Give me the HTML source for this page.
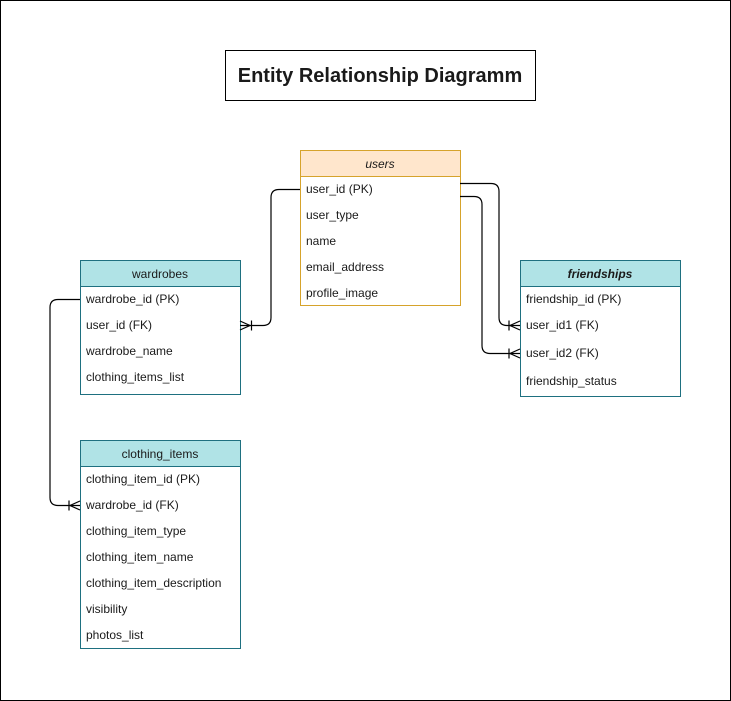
<!DOCTYPE html>
<html><head><meta charset="utf-8"><style>
body{margin:0;background:#fff}
svg{display:block}
text{font-family:"Liberation Sans",Arial,sans-serif;font-size:12px;fill:#1a1a1a}
</style></head><body>
<svg width="731" height="701" viewBox="0 0 731 701">
<rect x="0.5" y="0.5" width="730" height="700" fill="#fff" stroke="#000"/>
<rect x="225.5" y="50.5" width="310" height="50" fill="#fff" stroke="#000"/>
<text x="380" y="82" text-anchor="middle" style="font-size:20px;font-weight:bold">Entity Relationship Diagramm</text>

<!-- users -->
<rect x="300.5" y="150.5" width="160" height="155" fill="#fff" stroke="#d6a32b"/>
<rect x="300.5" y="150.5" width="160" height="26" fill="#ffe6cc" stroke="#d6a32b"/>
<text x="380" y="168" text-anchor="middle" font-style="italic">users</text>
<text x="306" y="193">user_id (PK)</text>
<text x="306" y="219">user_type</text>
<text x="306" y="245">name</text>
<text x="306" y="271">email_address</text>
<text x="306" y="297">profile_image</text>

<!-- wardrobes -->
<rect x="80.5" y="260.5" width="160" height="134" fill="#fff" stroke="#1e7080"/>
<rect x="80.5" y="260.5" width="160" height="26" fill="#b0e3e6" stroke="#1e7080"/>
<text x="160" y="278" text-anchor="middle">wardrobes</text>
<text x="86" y="303">wardrobe_id (PK)</text>
<text x="86" y="329">user_id (FK)</text>
<text x="86" y="355">wardrobe_name</text>
<text x="86" y="381">clothing_items_list</text>

<!-- clothing_items -->
<rect x="80.5" y="440.5" width="160" height="208" fill="#fff" stroke="#1e7080"/>
<rect x="80.5" y="440.5" width="160" height="26" fill="#b0e3e6" stroke="#1e7080"/>
<text x="160" y="458" text-anchor="middle">clothing_items</text>
<text x="86" y="483">clothing_item_id (PK)</text>
<text x="86" y="509">wardrobe_id (FK)</text>
<text x="86" y="535">clothing_item_type</text>
<text x="86" y="561">clothing_item_name</text>
<text x="86" y="587">clothing_item_description</text>
<text x="86" y="613">visibility</text>
<text x="86" y="639">photos_list</text>

<!-- friendships -->
<rect x="520.5" y="260.5" width="160" height="136" fill="#fff" stroke="#1e7080"/>
<rect x="520.5" y="260.5" width="160" height="26" fill="#b0e3e6" stroke="#1e7080"/>
<text x="600" y="278" text-anchor="middle" font-style="italic" font-weight="bold">friendships</text>
<text x="526" y="303">friendship_id (PK)</text>
<text x="526" y="329">user_id1 (FK)</text>
<text x="526" y="357">user_id2 (FK)</text>
<text x="526" y="385">friendship_status</text>

<g fill="none" stroke="#000" stroke-width="1.2">
<path d="M300 189.5 H279 Q271 189.5 271 197.5 V317.5 Q271 325.5 263 325.5 H240"/>
<path d="M240 321 L250 325.5 L240 330 M251.5 320.5 V330.5"/>
<path d="M460 183.5 H491 Q499 183.5 499 191.5 V317.5 Q499 325.5 507 325.5 H520"/>
<path d="M520 321 L510 325.5 L520 330 M509 320.5 V330.5"/>
<path d="M460 196.5 H474 Q482 196.5 482 204.5 V345.5 Q482 353.5 490 353.5 H520"/>
<path d="M520 349 L510 353.5 L520 358 M509 348.5 V358.5"/>
<path d="M80 299.5 H58 Q50 299.5 50 307.5 V497.5 Q50 505.5 58 505.5 H80"/>
<path d="M80 501 L70 505.5 L80 510 M69 500.5 V510.5"/>
</g>
</svg>
</body></html>
